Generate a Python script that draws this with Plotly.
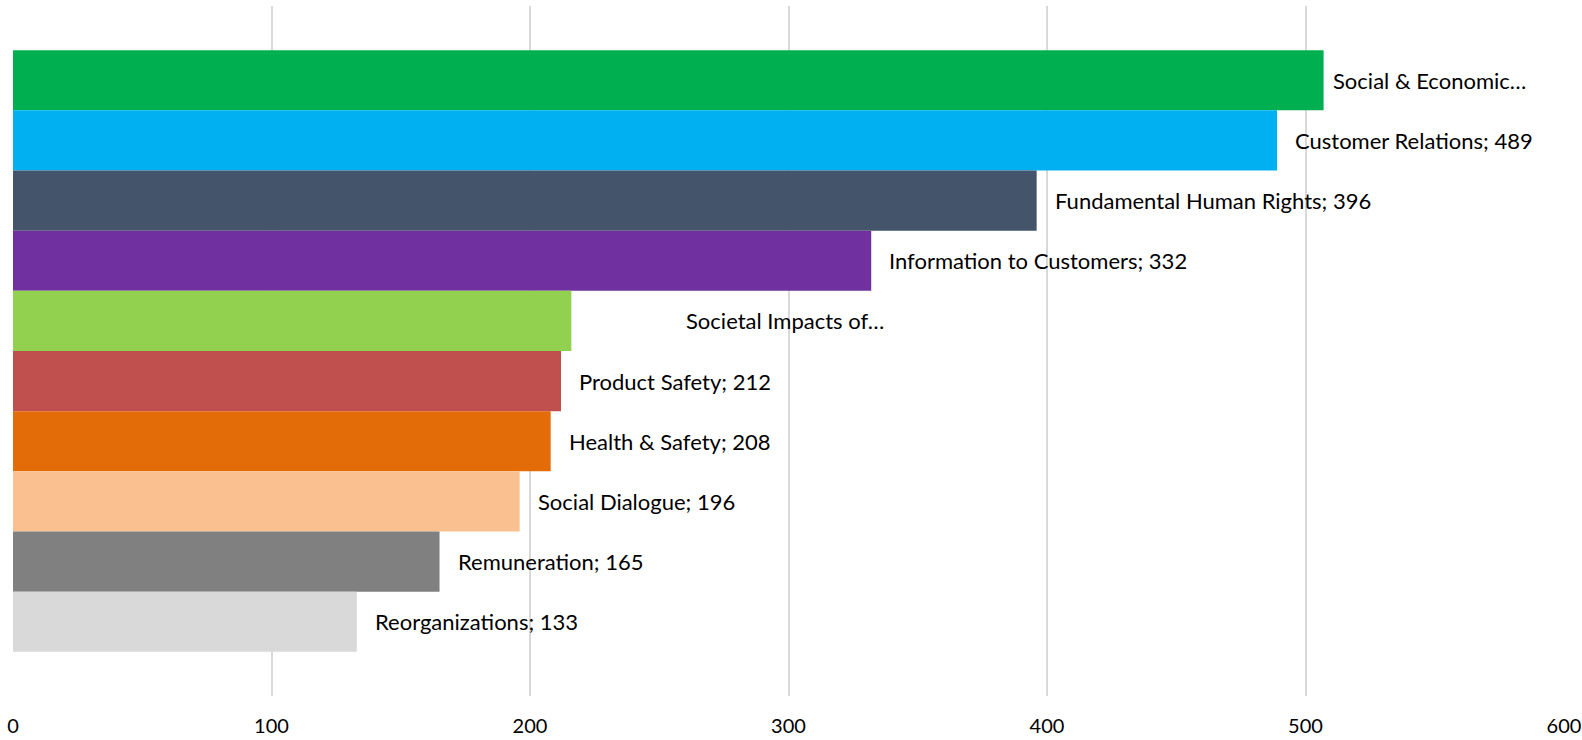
import plotly.graph_objects as go

# Complaint topics, top to bottom
categories = [
    "Social & Economic…",
    "Customer Relations",
    "Fundamental Human Rights",
    "Information to Customers",
    "Societal Impacts of…",
    "Product Safety",
    "Health & Safety",
    "Social Dialogue",
    "Remuneration",
    "Reorganizations",
]
values = [507, 489, 396, 332, 216, 212, 208, 196, 165, 133]
# Truncated labels carry no value
label_texts = [
    "Social & Economic…",
    "Customer Relations; 489",
    "Fundamental Human Rights; 396",
    "Information to Customers; 332",
    "Societal Impacts of…",
    "Product Safety; 212",
    "Health & Safety; 208",
    "Social Dialogue; 196",
    "Remuneration; 165",
    "Reorganizations; 133",
]
x_ticks = [0, 100, 200, 300, 400, 500, 600]

colors = [
    "#00B050", "#00B0F0", "#44546A", "#7030A0", "#92D050",
    "#C0504D", "#E36C09", "#FAC090", "#808080", "#D9D9D9",
]
# Horizontal offset (px) of each data label from its bar end
label_shift = {0: 7, 4: 113}
default_shift = 16

FONT = "Lato, Open Sans, sans-serif"
positions = list(range(len(categories)))

fig = go.Figure(
    go.Bar(
        x=values,
        y=positions,
        orientation="h",
        width=1.0,
        marker=dict(color=colors, line=dict(width=0)),
        hoverinfo="skip",
    )
)

for i, (v, t) in enumerate(zip(values, label_texts)):
    fig.add_annotation(
        x=v, y=i, text=t, showarrow=False,
        xanchor="left", yanchor="middle",
        xshift=label_shift.get(i, default_shift),
        font=dict(family=FONT, size=22, color="#000000"),
    )

fig.update_layout(
    width=1582, height=740,
    margin=dict(l=13, r=18, t=6, b=44),
    paper_bgcolor="white", plot_bgcolor="white",
    showlegend=False,
    xaxis=dict(
        range=[0, 600], tickvals=x_ticks, ticktext=[str(t) for t in x_ticks],
        showgrid=True, gridcolor="#D9D9D9", gridwidth=1.5,
        zeroline=False, showline=False,
        ticks="outside", ticklen=12, tickcolor="rgba(0,0,0,0)",
        tickfont=dict(family=FONT, size=20, color="#000000"),
        ticklabeloverflow="allow",
        automargin=False, fixedrange=True,
    ),
    yaxis=dict(
        range=[len(categories) - 0.5 + 0.735, -0.5 - 0.735],
        showgrid=False, zeroline=False, showline=False,
        showticklabels=False, automargin=False, fixedrange=True,
    ),
)

fig.write_html("out.html")
